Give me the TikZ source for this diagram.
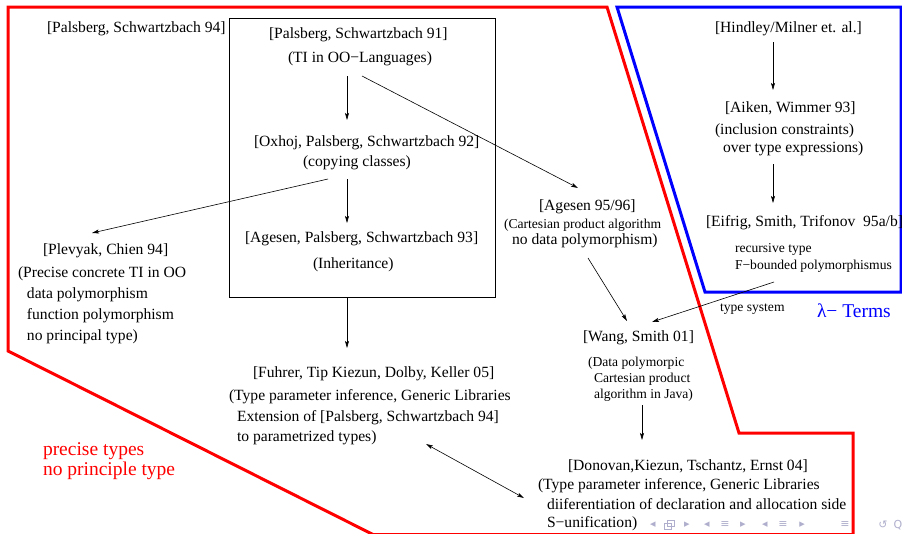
\documentclass[tikz,border=0pt]{standalone}
\usepackage{fontspec}
\setmainfont{Liberation Serif}
\newfontfamily\symfont{DejaVu Sans}
\usetikzlibrary{arrows.meta}
\definecolor{navc}{RGB}{175,175,205}
\begin{document}
\begin{tikzpicture}[x=1pt,y=-1pt,
  every node/.style={inner sep=0pt, outer sep=0pt, anchor=base west},
  txt/.style={font=\fontsize{15.6}{18}\selectfont},
  sml/.style={font=\fontsize{13.6}{16}\selectfont},
  big/.style={font=\fontsize{19.5}{22}\selectfont},
  arr/.style={-{Stealth[length=7pt,width=4pt,inset=1.5pt]}, line width=0.6pt},
  darr/.style={{Stealth[length=7pt,width=4pt,inset=1.5pt]}-{Stealth[length=7pt,width=4pt,inset=1.5pt]}, line width=0.6pt},
  redzone/.style={draw=red, line width=3pt, line join=miter},
  bluezone/.style={draw=blue, line width=3pt, line join=miter},
  nav/.style={anchor=center, text=navc, font=\symfont\fontsize{11}{11}\selectfont}]
\useasboundingbox (0,0) rectangle (902,533);
\fill[white] (0,0) rectangle (902,533);

% regions
\draw[redzone] (8,7) -- (607,7) -- (739,433) -- (853,433) -- (853,534.5) -- (373,534.5) -- (8,351) -- cycle;
\draw[bluezone] (617,7) -- (901,7) -- (901,292) -- (705,292) -- cycle;
\draw[line width=0.8pt] (229,18) rectangle (495,297);

% texts
\node[txt] (p94) at (47,32) {[Palsberg, Schwartzbach 94]};
\node[txt] (p91) at (269,38) {[Palsberg, Schwartzbach 91]};
\node[txt] (p91b) at (288,62) {(TI in OO−Languages)};
\node[txt] (ox) at (254,146) {[Oxhoj, Palsberg, Schwartzbach 92]};
\node[txt] (oxb) at (303,166) {(copying classes)};
\node[txt] (ag93) at (245,242) {[Agesen, Palsberg, Schwartzbach 93]};
\node[txt] (ag93b) at (313,268) {(Inheritance)};

\node[txt] (plev) at (43,254) {[Plevyak, Chien 94]};
\node[txt] (plev1) at (18,277) {(Precise concrete TI in OO};
\node[txt] (plev2) at (27,298) {data polymorphism};
\node[txt] (plev3) at (27,319) {function polymorphism};
\node[txt] (plev4) at (27,340) {no principal type)};

\node[txt] (ag95) at (539,210) {[Agesen 95/96]};
\node[sml] (ag95a) at (504,228) {(Cartesian product algorithm};
\node[txt] (ag95b) at (512,244) {no data polymorphism)};

\node[txt] (hm) at (715,32) {[Hindley/Milner et. al.]};
\node[txt] (aw) at (725,112) {[Aiken, Wimmer 93]};
\node[txt] (aw1) at (715,134) {(inclusion constraints)};
\node[txt] (aw2) at (723,152) {over type expressions)};
\node[txt] (est) at (706,226) {[Eifrig, Smith, Trifonov\ \ 95a/b]};
\node[sml] (est1) at (735,252) {recursive type};
\node[sml] (est2) at (735,269) {F−bounded polymorphismus};
\node[sml] (ts) at (720,311) {type system};
\node[big, text=blue] (lam) at (817,317) {λ− Terms};

\node[txt] (ws) at (583,341) {[Wang, Smith 01]};
\node[sml] (ws1) at (588,366) {(Data polymorpic};
\node[sml] (ws2) at (594,382) {Cartesian product};
\node[sml] (ws3) at (594,398) {algorithm in Java)};

\node[txt] (fu) at (253,377) {[Fuhrer, Tip Kiezun, Dolby, Keller 05]};
\node[txt] (fu1) at (229,400) {(Type parameter inference, Generic Libraries};
\node[txt] (fu2) at (237,421) {Extension of [Palsberg, Schwartzbach 94]};
\node[txt] (fu3) at (237,441) {to parametrized types)};

\node[big, text=red] (pt1) at (43,455) {precise types};
\node[big, text=red] (pt2) at (43,475) {no principle type};

\node[txt] (do) at (568,470) {[Donovan,Kiezun, Tschantz, Ernst 04]};
\node[txt] (do1) at (538,489) {(Type parameter inference, Generic Libraries};
\node[txt] (do2) at (547,509) {diiferentiation of declaration and allocation side};
\node[txt] (do3) at (547,527) {S−unification)};

% connector ends
\coordinate (a1s) at (347,76);  \coordinate (a1e) at (347,120);
\coordinate (a2s) at (362,76);  \coordinate (a2e) at (578,188);
\coordinate (a3s) at (328,179); \coordinate (a3e) at (92,233);
\coordinate (a4s) at (347,179); \coordinate (a4e) at (347,223);
\coordinate (a5s) at (347,297); \coordinate (a5e) at (347,348);
\coordinate (a6s) at (588,258); \coordinate (a6e) at (627,321);
\coordinate (a7s) at (774,282); \coordinate (a7e) at (652,322);
\coordinate (a8s) at (773,42);  \coordinate (a8e) at (773,90);
\coordinate (a9s) at (773,164); \coordinate (a9e) at (773,203);
\coordinate (a10s) at (642,405); \coordinate (a10e) at (642,440);
\coordinate (a11s) at (426,444); \coordinate (a11e) at (524,498);

\draw[arr] (a1s) -- (a1e);
\draw[arr] (a2s) -- (a2e);
\draw[arr] (a3s) -- (a3e);
\draw[arr] (a4s) -- (a4e);
\draw[arr] (a5s) -- (a5e);
\draw[arr] (a6s) -- (a6e);
\draw[arr] (a7s) -- (a7e);
\draw[arr] (a8s) -- (a8e);
\draw[arr] (a9s) -- (a9e);
\draw[arr] (a10s) -- (a10e);
\draw[darr] (a11s) -- (a11e);

% navigation symbols
\node[nav] (n1) at (653,525) {◂};
\draw[navc, line width=0.7pt] (664,523) rectangle (671,529) (667,520) rectangle (674,526);
\node[nav] (n3) at (687,525) {▸};
\node[nav] (n4) at (707,525) {◂};
\node[nav] (n5) at (725,525) {≡};
\node[nav] (n6) at (743,525) {▸};
\node[nav] (n7) at (765,525) {◂};
\node[nav] (n8) at (783,525) {≡};
\node[nav] (n9) at (802,525) {▸};
\node[nav] (n10) at (845,525) {≡};
\node[nav] (n11) at (883,525) {↺};
\node[nav] (n12) at (898,525) {Q};
\end{tikzpicture}
\end{document}
